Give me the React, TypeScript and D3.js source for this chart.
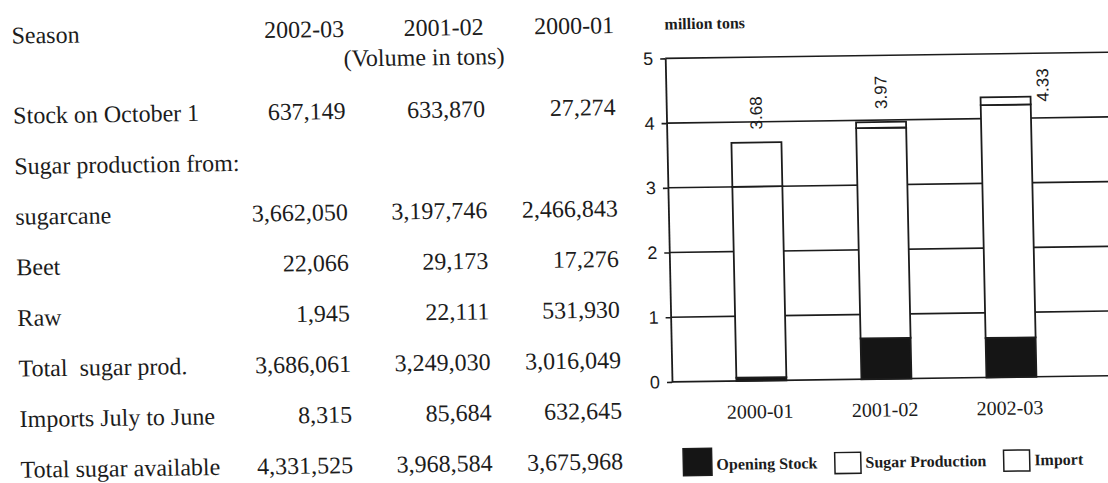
import React, { useEffect, useRef } from "react";
import * as d3 from "d3";

const W = 1108;
const H = 483;

// ---- Table: Philippine sugar balance (volume in tons) ----
const tableSeasons = ["2002-03", "2001-02", "2000-01"];
const tableUnit = "(Volume in tons)";
const tableHeadLabel = "Season";
const rowLabels = [
  "Stock on October 1",
  "Sugar production from:",
  "sugarcane",
  "Beet",
  "Raw",
  "Total  sugar prod.",
  "Imports July to June",
  "Total sugar available",
];
const stockOct1 = [637149, 633870, 27274];
const caneSugar = [3662050, 3197746, 2466843];
const beetSugar = [22066, 29173, 17276];
const rawSugar = [1945, 22111, 531930];
const totalProduction = [3686061, 3249030, 3016049];
const importsJulJun = [8315, 85684, 632645];
const totalAvailable = [4331525, 3968584, 3675968];
const tableValues: (number[] | null)[] = [
  stockOct1,
  null,
  caneSugar,
  beetSugar,
  rawSugar,
  totalProduction,
  importsJulJun,
  totalAvailable,
];

// ---- Chart: supply by season, million tons ----
const chartSeasons = ["2000-01", "2001-02", "2002-03"];
const openingStock = [0.05, 0.63, 0.61];
const sugarProduction = [2.95, 3.25, 3.6];
const sugarImport = [0.68, 0.09, 0.12];
const seriesNames = ["Opening Stock", "Sugar Production", "Import"];
const seriesFills = ["#151515", "#ffffff", "#ffffff"];
const yTicks = [0, 1, 2, 3, 4, 5];
const yUnit = "million tons";

const SERIF = "'Liberation Serif', 'Times New Roman', serif";
const SANS = "'Liberation Sans', Arial, sans-serif";
const INK = "#1c1c1c";

// the printed sheet sits a little askew on the page
const SKEW_X = 0.021;
const SKEW_Y = 0.014;
const CX = 554;
const CY = 241;

export default function App() {
  const ref = useRef<SVGSVGElement>(null);

  useEffect(() => {
    const svg = d3.select(ref.current);
    svg.selectAll("*").remove();
    svg.append("rect").attr("width", W).attr("height", H).attr("fill", "#fff");

    const page = svg
      .append("g")
      .attr(
        "transform",
        `matrix(1,${-SKEW_Y},${SKEW_X},1,${-SKEW_X * CY},${SKEW_Y * CX})`
      );

    // ---------- table ----------
    const fmt = d3.format(",");
    const labelX = 16;
    const colRight = [348.5, 488, 618.5];
    const firstRow = 116;
    const rowStep = 50.6;
    const table = page
      .append("g")
      .attr("font-family", SERIF)
      .attr("font-size", 24)
      .attr("fill", INK);

    table.append("text").attr("x", labelX).attr("y", 36).text(tableHeadLabel);
    table
      .selectAll("text.season")
      .data(tableSeasons)
      .join("text")
      .attr("class", "season")
      .attr("x", (_, i) => colRight[i])
      .attr("y", 34)
      .attr("text-anchor", "end")
      .text((d) => d);
    table
      .append("text")
      .attr("x", 428)
      .attr("y", 63.5)
      .attr("text-anchor", "middle")
      .text(tableUnit);

    rowLabels.forEach((label, r) => {
      const y = firstRow + r * rowStep;
      table
        .append("text")
        .attr("x", labelX)
        .attr("y", y)
        .style("white-space", "pre")
        .text(label);
      const vals = tableValues[r];
      if (vals) {
        vals.forEach((v, c) => {
          table
            .append("text")
            .attr("x", colRight[c])
            .attr("y", y)
            .attr("text-anchor", "end")
            .text(fmt(v));
        });
      }
    });

    // ---------- chart ----------
    const plotLeft = 669;
    const plotRight = 1110;
    const x = d3
      .scaleBand<string>()
      .domain(chartSeasons)
      .range([plotLeft, plotRight])
      .paddingInner(0.6)
      .paddingOuter(0.564)
      .align(0.457);
    const y = d3.scaleLinear().domain([0, 5]).range([383.5, 60]);

    const chart = page.append("g");

    chart
      .append("text")
      .attr("x", plotLeft)
      .attr("y", 31)
      .attr("font-family", SERIF)
      .attr("font-size", 16)
      .attr("font-weight", "bold")
      .attr("fill", INK)
      .text(yUnit);

    // gridlines
    chart
      .selectAll("line.grid")
      .data(yTicks)
      .join("line")
      .attr("class", "grid")
      .attr("x1", plotLeft)
      .attr("x2", plotRight + 10)
      .attr("y1", (d) => y(d))
      .attr("y2", (d) => y(d))
      .attr("stroke", INK)
      .attr("stroke-width", 1.6);

    // left axis
    const axis = chart
      .append("g")
      .attr("transform", `translate(${plotLeft},0)`)
      .call(
        d3
          .axisLeft(y)
          .tickValues(yTicks)
          .tickSize(5)
          .tickSizeOuter(0)
          .tickPadding(7)
          .tickFormat(d3.format("d"))
      );
    axis.select(".domain").attr("stroke", INK).attr("stroke-width", 1.8);
    axis.selectAll(".tick line").attr("stroke", INK).attr("stroke-width", 1.6);
    axis
      .selectAll(".tick text")
      .attr("font-family", SANS)
      .attr("font-size", 18)
      .attr("fill", INK);

    // stacked bars
    const rows = chartSeasons.map((s, i) => ({
      season: s,
      [seriesNames[0]]: openingStock[i],
      [seriesNames[1]]: sugarProduction[i],
      [seriesNames[2]]: sugarImport[i],
    }));
    const stacked = d3.stack<any>().keys(seriesNames)(rows);

    stacked.forEach((layer, k) => {
      chart
        .append("g")
        .selectAll("rect")
        .data(layer)
        .join("rect")
        .attr("x", (d) => x(d.data.season)!)
        .attr("width", x.bandwidth())
        .attr("y", (d) => y(d[1]))
        .attr("height", (d) => y(d[0]) - y(d[1]))
        .attr("fill", seriesFills[k])
        .attr("stroke", INK)
        .attr("stroke-width", 1.8);
    });

    // total labels, vertical; placed beside the bar when there is no room above
    const totals = chartSeasons.map(
      (_, i) => openingStock[i] + sugarProduction[i] + sugarImport[i]
    );
    const fmtTotal = d3.format(".2f");
    const labelLen = 34;
    totals.forEach((t, i) => {
      const top = y(t);
      const fitsAbove = top - 13 - labelLen >= y(5);
      const cx = fitsAbove
        ? x(chartSeasons[i])! + x.bandwidth() / 2
        : x(chartSeasons[i])! + x.bandwidth() + 12;
      const base = fitsAbove ? top - 13 : top + 5;
      chart
        .append("text")
        .attr("transform", `translate(${cx},${base}) rotate(-90)`)
        .attr("dy", "0.36em")
        .attr("font-family", SANS)
        .attr("font-size", 17)
        .attr("fill", INK)
        .text(fmtTotal(t));
    });

    // season labels
    chart
      .selectAll("text.cat")
      .data(chartSeasons)
      .join("text")
      .attr("class", "cat")
      .attr("x", (d) => x(d)! + x.bandwidth() / 2 - 2)
      .attr("y", 421)
      .attr("text-anchor", "middle")
      .attr("font-family", SERIF)
      .attr("font-size", 20)
      .attr("fill", INK)
      .text((d) => d);

    // legend
    const legend = chart
      .append("g")
      .attr("font-family", SERIF)
      .attr("font-size", 16)
      .attr("font-weight", "bold")
      .attr("fill", INK);
    let lx = 678.6;
    seriesNames.forEach((name, k) => {
      const big = k === 0;
      const sw = big ? 28.5 : 26;
      const sh = big ? 27 : 21;
      legend
        .append("rect")
        .attr("x", lx)
        .attr("y", 477.5 - sh)
        .attr("width", sw)
        .attr("height", sh)
        .attr("fill", seriesFills[k])
        .attr("stroke", INK)
        .attr("stroke-width", 1.5);
      lx += sw + 4.6;
      const t = legend.append("text").attr("x", lx).attr("y", 472).text(name);
      const len = (t.node() as SVGTextElement).getComputedTextLength();
      lx += len + 17.5;
    });
  }, []);

  return (
    <svg
      ref={ref}
      width={W}
      height={H}
      style={{ position: "absolute", left: 0, top: 0, display: "block" }}
    />
  );
}
